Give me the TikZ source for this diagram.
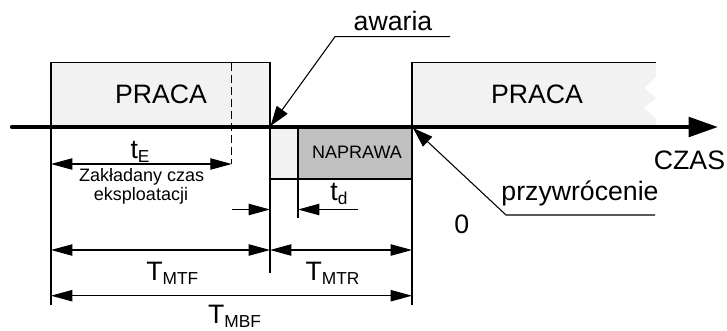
\documentclass[tikz,border=0pt]{standalone}
\usepackage{fontspec}
\setmainfont{Liberation Sans}
\usetikzlibrary{arrows.meta}
\definecolor{lightfill}{RGB}{242,242,242}
\definecolor{repairfill}{RGB}{192,192,192}
\newcommand\lowsub[1]{\raisebox{-3pt}{\fontsize{13}{14}\selectfont #1}}
\begin{document}
\begin{tikzpicture}[x=0.75pt,y=-0.75pt,
  big/.style={font=\fontsize{20}{24}\selectfont, inner sep=0pt, anchor=base},
  small/.style={font=\fontsize{13.5}{16}\selectfont, inner sep=0pt, anchor=base},
  boxline/.style={line width=1pt},
  thinline/.style={line width=0.8pt},
  dim/.style={thinline, {Triangle[length=16pt,width=8.5pt]}-{Triangle[length=16pt,width=8.5pt]}},
  dimr/.style={thinline, -{Triangle[length=16pt,width=8.5pt]}},
  leader/.style={line width=0.8pt, -{Triangle[length=15pt,width=10pt]}},
  axisline/.style={line width=3.2pt, line cap=round, -{Triangle[length=22pt,width=14.5pt]}}]
\useasboundingbox (0,0) rectangle (727,330);

% work blocks
\filldraw[boxline, fill=lightfill] (51,127) rectangle (270,62.7);
\fill[lightfill] (412,127) -- (412,62.7) -- (656,62.7) -- (656,77) -- (644,88) -- (656,98)
   -- (644,108) -- (656,118) -- (656,127) -- cycle;
\draw[boxline] (412,127) -- (412,62.7) -- (656,62.7);

% repair blocks
\filldraw[boxline, fill=lightfill] (270,127) rectangle (298,179);
\filldraw[boxline, fill=repairfill] (298,127) rectangle (412,179);
\draw[line width=2pt] (270,127) -- (270,179);

% extension lines
\coordinate (e1a) at (51,127);   \coordinate (e1b) at (51,305);
\coordinate (e2a) at (270,179);  \coordinate (e2b) at (270,273);
\coordinate (e3a) at (298,179);  \coordinate (e3b) at (298,218);
\coordinate (e4a) at (412,179);  \coordinate (e4b) at (412,305);
\coordinate (dsa) at (231.7,62.7); \coordinate (dsb) at (231.7,164);
\draw[thinline] (e1a) -- (e1b);
\draw[thinline] (e2a) -- (e2b);
\draw[thinline] (e3a) -- (e3b);
\draw[thinline] (e4a) -- (e4b);
\draw[thinline, dash pattern=on 6pt off 3pt] (dsa) -- (dsb);

% dimension arrows
\coordinate (tEl) at (51,164);     \coordinate (tEr) at (231.7,164);
\coordinate (tdA) at (231.7,209.5); \coordinate (tdB) at (270,209.5);
\coordinate (tdC) at (358,209.5);   \coordinate (tdD) at (298,209.5);
\coordinate (m1) at (51,250); \coordinate (m2) at (270,250); \coordinate (m3) at (412,250);
\coordinate (b1) at (51,295.7); \coordinate (b2) at (412,295.7);
\draw[dim] (tEl) -- (tEr);
\draw[dimr] (tdA) -- (tdB);
\draw[dimr] (tdC) -- (tdD);
\draw[dim] (m1) -- (m2);
\draw[dim] (m2) -- (m3);
\draw[dim] (b1) -- (b2);

% time axis
\coordinate (ax0) at (12,127); \coordinate (ax1) at (718,127);
\draw[axisline] (ax0) -- (ax1);

% leaders
\coordinate (awU) at (450,36.7); \coordinate (awK) at (335,36.7); \coordinate (awT) at (270.5,126);
\draw[leader] (awU) -- (awK) -- (awT);
\coordinate (prU) at (655,215); \coordinate (prK) at (506,215); \coordinate (prT) at (413,128);
\draw[leader] (prU) -- (prK) -- (prT);

% texts
\node[big] (praca1) at (161,103.3) {PRACA};
\node[big] (praca2) at (537,103.3) {PRACA};
\node[big] (awaria) at (393,30) {awaria};
\node[big] (przyw) at (580,200) {przywrócenie};
\node[big] (czas) at (689.5,169) {CZAS};
\node[big] (zero) at (461.7,233.3) {0};
\node[small] (naprawa) at (357,158.3) {NAPRAWA};
\node[small] (zak1) at (141.7,181) {Zakładany czas};
\node[small] (zak2) at (141,200) {eksploatacji};
\node[big] (tE) at (140,158) {t\lowsub{E}};
\node[big] (td) at (339,200) {t\lowsub{d}};
\node[big] (tmtf) at (172.3,280) {T\lowsub{MTF}};
\node[big] (tmtr) at (332.5,280) {T\lowsub{MTR}};
\node[big] (tmbf) at (234.5,323.5) {T\lowsub{MBF}};
\end{tikzpicture}
\end{document}
